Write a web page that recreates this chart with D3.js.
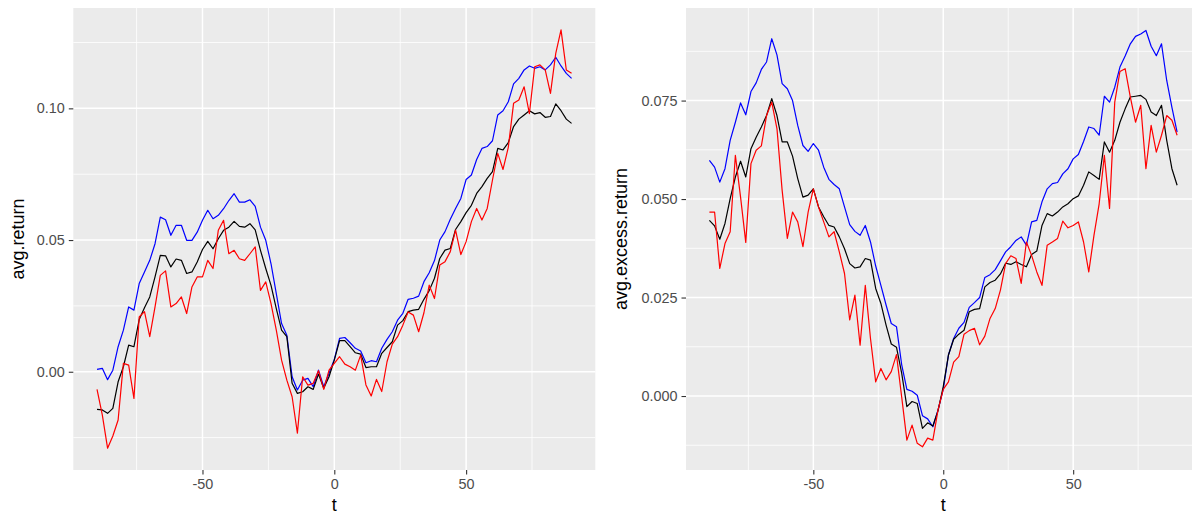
<!DOCTYPE html>
<html>
<head>
<meta charset="utf-8">
<script src="https://cdn.jsdelivr.net/npm/d3@7"></script>
<style>
  body { margin: 0; background: #fff; }
  svg { display: block; font-family: "Liberation Sans", Arial, sans-serif; }
</style>
</head>
<body>
<svg id="chart" width="1192" height="516"></svg>
<script>
// event time, every 2 days
const t = [-90,-88,-86,-84,-82,-80,-78,-76,-74,-72,-70,-68,-66,-64,-62,-60,-58,-56,-54,-52,-50,-48,-46,-44,-42,-40,-38,-36,-34,-32,-30,-28,-26,-24,-22,-20,-18,-16,-14,-12,-10,-8,-6,-4,-2,0,
  2,4,6,8,10,12,14,16,18,20,22,24,26,28,30,32,34,36,38,40,42,44,46,48,50,52,54,56,58,60,62,64,66,68,70,72,74,76,78,80,82,84,86,88,90];

// left panel: avg.return
const retBlue = [0.0009,0.0013,-0.003,0.0006,0.0095,0.0158,0.0246,0.0234,0.0335,0.0379,0.0423,0.0486,0.0587,0.0577,0.0518,0.0556,0.0556,0.0499,0.0499,0.053,0.0575,0.0613,0.0581,0.0594,0.0619,0.065,0.0676,0.0644,0.0644,0.0653,0.0628,0.0549,0.0499,0.041,0.0297,0.0183,0.0139,-0.0019,-0.0069,-0.0032,-0.0025,-0.0057,0.0006,-0.0057,-0.0006,0.0047,
  0.0127,0.013,0.011,0.0089,0.0079,0.0034,0.0042,0.0038,0.0089,0.0123,0.0152,0.0196,0.0222,0.0275,0.0279,0.0287,0.0342,0.0376,0.0422,0.05,0.0532,0.0579,0.062,0.0658,0.073,0.0747,0.0806,0.0848,0.0855,0.0877,0.0975,0.0991,0.1025,0.1093,0.1114,0.1146,0.1161,0.1152,0.1158,0.1146,0.1165,0.1194,0.1161,0.1133,0.1114];
const retBlack = [-0.0143,-0.0145,-0.0158,-0.0139,-0.0038,0.0019,0.0101,0.0095,0.0198,0.0243,0.0284,0.036,0.0442,0.044,0.0398,0.0428,0.0423,0.0373,0.0379,0.0417,0.0464,0.0495,0.0467,0.0505,0.0537,0.0549,0.0571,0.0552,0.0549,0.0562,0.0539,0.0461,0.0392,0.0328,0.024,0.0158,0.0133,-0.0044,-0.0082,-0.0076,-0.0057,-0.0067,-0.0009,-0.0063,-0.0019,0.0044,
  0.0118,0.0118,0.0095,0.0072,0.0067,0.0016,0.0019,0.0019,0.007,0.0092,0.0114,0.0177,0.0194,0.0228,0.0234,0.0237,0.0275,0.0308,0.0355,0.043,0.0462,0.0468,0.054,0.057,0.0604,0.0632,0.0677,0.0703,0.0734,0.076,0.0848,0.0842,0.087,0.0931,0.0959,0.0975,0.0991,0.0979,0.0984,0.0966,0.0969,0.1017,0.0991,0.0959,0.0943];
const retRed = [-0.0067,-0.0164,-0.029,-0.0244,-0.0183,0.0032,0.0025,-0.0101,0.0208,0.0228,0.0133,0.0246,0.0366,0.0383,0.0246,0.0259,0.0284,0.0221,0.0322,0.036,0.036,0.0423,0.0392,0.0537,0.0575,0.0448,0.0461,0.0429,0.0423,0.0448,0.0474,0.0309,0.0341,0.0259,0.0158,0.0044,-0.0032,-0.0095,-0.0233,-0.0019,-0.0051,-0.0044,0.0004,-0.0067,0.0006,0.0032,
  0.0057,0.0029,0.0019,0.0006,0.0063,-0.005,-0.0092,-0.0029,-0.0075,0.0038,0.0105,0.0133,0.0177,0.0227,0.0215,0.0152,0.0224,0.0329,0.0278,0.0405,0.0418,0.0456,0.0538,0.0445,0.0494,0.057,0.062,0.0576,0.062,0.0728,0.0829,0.0768,0.0852,0.1019,0.1032,0.1082,0.098,0.1158,0.1165,0.1146,0.1057,0.1209,0.1298,0.1146,0.1133];

// right panel: avg.excess.return
const excBlue = [0.0598,0.0581,0.0543,0.0577,0.0649,0.0695,0.0744,0.0714,0.0773,0.0795,0.0829,0.0848,0.0907,0.0866,0.0793,0.078,0.075,0.0687,0.0636,0.0621,0.0641,0.0624,0.0581,0.055,0.0537,0.0526,0.048,0.0435,0.0418,0.0408,0.0433,0.0391,0.033,0.0281,0.0231,0.0184,0.0176,0.008,0.0017,0.0012,0.0002,-0.005,-0.0058,-0.0078,-0.0035,0.0017,
  0.0104,0.0146,0.0172,0.0187,0.0225,0.0237,0.025,0.0301,0.0308,0.0321,0.0343,0.0366,0.0379,0.0395,0.0404,0.0383,0.0442,0.0446,0.0493,0.0526,0.0539,0.0542,0.0564,0.0577,0.0602,0.0613,0.0646,0.0683,0.0679,0.0662,0.0761,0.0746,0.0784,0.0835,0.0863,0.0894,0.0913,0.0919,0.0928,0.0888,0.0864,0.0894,0.0801,0.0733,0.067];
const excBlack = [0.0446,0.0432,0.0398,0.0438,0.0501,0.0556,0.0596,0.0556,0.0628,0.0657,0.0683,0.0712,0.0755,0.0712,0.0645,0.0645,0.0609,0.0552,0.0505,0.051,0.0526,0.048,0.0455,0.0433,0.0429,0.0404,0.0374,0.0336,0.0325,0.0328,0.0349,0.0345,0.0273,0.0235,0.018,0.0132,0.0124,0.0058,-0.0027,-0.0014,-0.0019,-0.0082,-0.0068,-0.0076,-0.0037,0.0024,
  0.0104,0.0144,0.0157,0.0167,0.0214,0.022,0.0222,0.0277,0.0288,0.0294,0.031,0.0337,0.0334,0.0341,0.0334,0.0328,0.0359,0.0368,0.0433,0.0463,0.0457,0.0467,0.048,0.0488,0.0501,0.0508,0.0535,0.0569,0.056,0.055,0.0645,0.0619,0.0649,0.0695,0.0729,0.0759,0.0761,0.0763,0.0753,0.0721,0.0712,0.0738,0.0649,0.0577,0.0535];
const excRed = [0.0467,0.0467,0.0324,0.0387,0.0417,0.0611,0.0505,0.039,0.059,0.0624,0.0635,0.0712,0.0746,0.0679,0.0522,0.04,0.0467,0.0442,0.0379,0.0467,0.0526,0.048,0.0442,0.0404,0.0417,0.0366,0.0311,0.0193,0.0256,0.0129,0.0281,0.0146,0.0036,0.007,0.0041,0.0062,0.0105,-0.0002,-0.0112,-0.0074,-0.012,-0.0129,-0.0107,-0.0112,-0.0035,0.0017,
  0.0036,0.0086,0.01,0.0157,0.0166,0.0172,0.013,0.0152,0.0197,0.0222,0.0269,0.0336,0.0356,0.0349,0.0286,0.0391,0.0357,0.0315,0.0281,0.0383,0.0391,0.04,0.0444,0.0427,0.0433,0.0442,0.0391,0.0315,0.0408,0.0488,0.0611,0.0476,0.0746,0.0824,0.0831,0.0759,0.0695,0.0738,0.0577,0.0687,0.0619,0.0662,0.0712,0.07,0.0662];

const xTicks = [-50, 0, 50];
const xMinor = [-75, -25, 25, 75];
const retTicks = [0, 0.05, 0.10];
const retMinor = [-0.025, 0.025, 0.075, 0.125];
const excTicks = [0, 0.025, 0.05, 0.075];
const excMinor = [-0.0125, 0.0125, 0.0375, 0.0625, 0.0875];

const svg = d3.select("#chart");
const loc = d3.formatLocale({decimal: ".", thousands: ",", grouping: [3], currency: ["", ""], minus: "-"});

function drawPanel(cfg) {
  const x = d3.scaleLinear().domain([-99, 99]).range(cfg.xr);
  const y = d3.scaleLinear().domain(cfg.yd).range([470, 8]);
  const top = 8, bottom = 470;
  const g = svg.append("g");

  g.append("rect")
    .attr("x", cfg.xr[0]).attr("y", top)
    .attr("width", cfg.xr[1] - cfg.xr[0]).attr("height", bottom - top)
    .attr("fill", "#EBEBEB");

  // minor grid
  g.selectAll(".vmin").data(xMinor).join("line")
    .attr("class", "vmin")
    .attr("x1", d => x(d)).attr("x2", d => x(d)).attr("y1", top).attr("y2", bottom)
    .attr("stroke", "#fff").attr("stroke-width", 0.8);
  g.selectAll(".hmin").data(cfg.minor).join("line")
    .attr("class", "hmin")
    .attr("x1", cfg.xr[0]).attr("x2", cfg.xr[1]).attr("y1", d => y(d)).attr("y2", d => y(d))
    .attr("stroke", "#fff").attr("stroke-width", 0.8);
  // major grid
  g.selectAll(".vmaj").data(xTicks).join("line")
    .attr("class", "vmaj")
    .attr("x1", d => x(d)).attr("x2", d => x(d)).attr("y1", top).attr("y2", bottom)
    .attr("stroke", "#fff").attr("stroke-width", 1.5);
  g.selectAll(".hmaj").data(cfg.ticks).join("line")
    .attr("class", "hmaj")
    .attr("x1", cfg.xr[0]).attr("x2", cfg.xr[1]).attr("y1", d => y(d)).attr("y2", d => y(d))
    .attr("stroke", "#fff").attr("stroke-width", 1.5);

  const line = d3.line().x((d, i) => x(t[i])).y(d => y(d));
  cfg.series.forEach(s => {
    g.append("path").datum(s.values)
      .attr("d", line)
      .attr("fill", "none")
      .attr("stroke", s.color)
      .attr("stroke-width", 1.2)
      .attr("stroke-linejoin", "round");
  });

  const ax = g.append("g").attr("transform", `translate(0,${bottom})`)
    .call(d3.axisBottom(x).tickValues(xTicks).tickSize(4.5).tickPadding(4).tickFormat(loc.format("d")));
  const ay = g.append("g").attr("transform", `translate(${cfg.xr[0]},0)`)
    .call(d3.axisLeft(y).tickValues(cfg.ticks).tickSize(4.5).tickPadding(4).tickFormat(loc.format(cfg.fmt)));
  [ax, ay].forEach(a => {
    a.select(".domain").remove();
    a.selectAll(".tick line").attr("stroke", "#333").attr("stroke-width", 1.1);
    a.selectAll(".tick text").attr("fill", "#4D4D4D").style("font-size", "14.4px").style("font-family", "Liberation Sans, Arial, sans-serif");
  });

  g.append("text")
    .attr("x", (cfg.xr[0] + cfg.xr[1]) / 2).attr("y", 511)
    .attr("text-anchor", "middle")
    .style("font-size", "18px")
    .text("t");
  g.append("text")
    .attr("transform", `translate(${cfg.titleX},${(top + bottom) / 2}) rotate(-90)`)
    .attr("text-anchor", "middle")
    .style("font-size", "18px")
    .text(cfg.title);
}

drawPanel({
  xr: [73.3, 595.3], yd: [-0.0373, 0.1381],
  ticks: retTicks, minor: retMinor, fmt: ".2f",
  title: "avg.return", titleX: 24,
  series: [{values: retBlue, color: "#0000FF"}, {values: retBlack, color: "#000000"}, {values: retRed, color: "#FF0000"}]
});
drawPanel({
  xr: [686, 1200.5], yd: [-0.01878, 0.0985],
  ticks: excTicks, minor: excMinor, fmt: ".3f",
  title: "avg.excess.return", titleX: 627,
  series: [{values: excBlue, color: "#0000FF"}, {values: excBlack, color: "#000000"}, {values: excRed, color: "#FF0000"}]
});
</script>
</body>
</html>
